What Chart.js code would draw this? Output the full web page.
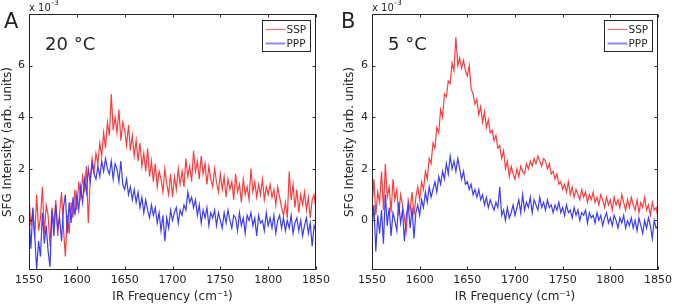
<!DOCTYPE html>
<html><head><meta charset="utf-8">
<script src="https://cdn.jsdelivr.net/npm/chart.js@4.4.1/dist/chart.umd.min.js"></script>
<style>
html,body{margin:0;padding:0;background:#fff;}
#wrap{position:relative;width:676px;height:306px;overflow:hidden;}
</style></head><body>
<div id="wrap">
<canvas id="cA" width="338" height="306" style="position:absolute;left:0;top:0"></canvas>
<canvas id="cB" width="338" height="306" style="position:absolute;left:338px;top:0"></canvas>
</div>
<script>
// ---- data (SFG intensity, units of 1e-3), IR frequency in cm^-1 ----
const freq = [1550,1552,1554,1556,1558,1560,1562,1564,1566,1568,1570,1572,1574,1576,1578,1580,1582,1584,1586,1588,1590,1592,1594,1596,1598,
1600,1602,1604,1606,1608,1610,1612,1614,1616,1618,1620,
1622,1624,1626,1628,1630,1632,1634,1636,1638,1640,
1642,1644,1646,1648,1650,1652,1654,1656,1658,1660,
1662,1664,1666,1668,1670,1672,1674,1676,1678,1680,
1682,1684,1686,1688,1690,1692,1694,1696,1698,1700,
1702,1704,1706,1708,1710,1712,1714,1716,1718,1720,
1722,1724,1726,1728,1730,1732,1734,1736,1738,1740,
1742,1744,1746,1748,1750,1752,1754,1756,1758,1760,
1762,1764,1766,1768,1770,1772,1774,1776,1778,1780,
1782,1784,1786,1788,1790,1792,1794,1796,1798,1800,
1802,1804,1806,1808,1810,1812,1814,1816,1818,1820,
1822,1824,1826,1828,1830,1832,1834,1836,1838,1840,1842,1844,1846,1848,1850];

const sspA = [0.9,-0.2,0.4,-0.7,1.0,-0.4,0.1,1.3,-0.5,0.6,0.2,-1.0,0.5,-0.2,0.8,-0.6,0.3,1.1,-0.3,-1.4,0.2,-0.5,0.7,0.1,1.2,
0.4,1.5,0.9,1.7,1.2,2.1,-0.1,1.6,2.4,1.9,2.6,
2.2,3.0,2.5,3.4,2.8,3.8,3.3,4.9,3.5,4.0,
3.4,4.3,3.1,3.8,3.5,2.9,3.7,2.7,3.3,2.5,
3.1,2.3,3.0,2.1,2.6,1.9,2.8,1.7,2.3,1.5,
2.2,1.3,1.9,1.6,1.1,2.0,1.4,1.0,1.8,0.9,
1.7,1.2,2.0,1.4,1.9,1.3,2.4,1.7,2.1,1.5,
2.7,1.9,2.3,1.6,2.5,1.8,2.2,1.4,2.1,1.6,
1.3,2.0,1.5,1.1,1.8,1.2,1.7,0.9,1.6,1.2,
1.5,0.8,1.8,1.1,1.4,0.7,1.6,1.0,1.3,0.8,
2.0,1.1,1.5,0.9,1.4,1.0,1.6,0.8,1.3,1.0,
1.4,0.9,1.2,0.6,1.3,0.9,0.5,0.2,0.7,0.1,
1.9,0.8,1.4,0.5,1.2,0.3,1.0,0.6,1.1,0.4,0.9,0.1,0.8,1.0,0.4];
const pppA = [0.2,-1.1,0.5,-0.6,-1.9,-0.8,-1.4,0.3,-0.9,-0.2,-1.2,-1.8,0.4,-0.6,0.6,-0.3,0.1,-0.8,0.5,1.0,-0.5,0.7,-0.1,0.9,0.2,
1.0,0.4,1.3,0.7,1.6,1.1,2.0,1.5,2.2,1.8,1.6,
2.1,1.7,2.3,1.9,2.4,2.0,1.8,2.3,1.6,2.2,
2.0,1.5,2.3,1.4,1.2,1.6,1.0,1.3,0.8,1.2,
0.7,1.1,0.5,0.9,0.3,0.8,0.4,0.1,0.6,0.2,
0.5,-0.1,0.3,-0.4,0.2,-0.8,0.1,-0.3,0.4,0.0,
0.3,0.5,-0.1,0.4,0.2,0.6,0.4,1.1,0.7,0.9,
0.5,0.8,0.2,0.6,-0.1,0.4,0.1,0.5,-0.2,0.3,
0.1,0.4,-0.2,0.3,0.0,-0.3,0.3,-0.1,0.4,0.0,
-0.3,0.2,0.1,-0.4,0.3,-0.2,0.1,-0.5,0.2,0.0,
0.3,-0.2,0.1,-0.6,0.2,-0.1,0.0,-0.4,0.3,-0.2,
0.1,-0.3,0.2,-0.5,0.0,0.2,-0.3,0.1,-0.4,0.0,
-0.3,0.2,-0.5,-0.1,0.1,-0.4,0.0,-0.6,-0.2,0.1,-0.5,-0.1,-1.0,-0.2,-0.4];
const sspB = [0.5,1.6,0.2,1.1,0.7,1.9,0.4,2.2,0.9,1.3,0.3,1.6,0.8,1.2,0.2,1.0,0.6,0.1,-0.4,0.8,0.4,1.1,0.2,0.9,1.3,
0.8,1.5,1.2,1.9,1.6,2.4,2.2,3.0,2.8,3.6,3.4,
4.3,4.0,4.9,4.8,5.4,5.3,6.1,5.8,7.1,6.0,
6.3,5.9,6.2,5.8,5.6,6.0,5.1,4.9,4.5,4.7,
4.1,4.4,3.8,4.2,3.6,3.9,3.4,3.5,3.1,3.3,
2.8,2.9,2.4,2.7,2.0,2.3,1.7,2.1,1.8,1.6,
2.0,1.7,2.1,1.9,1.8,2.2,2.0,2.3,2.1,2.4,
2.2,2.5,2.3,2.1,2.4,2.3,2.0,2.2,1.8,1.9,
1.6,1.8,1.4,1.5,1.2,1.4,1.1,1.5,1.0,1.3,
0.9,1.2,1.0,0.8,1.2,0.9,1.1,0.7,1.0,0.8,
1.1,0.7,0.9,0.6,1.0,0.8,0.5,0.9,0.6,0.8,
0.4,0.9,0.6,0.8,0.5,1.0,0.7,0.4,0.8,0.5,
0.9,0.6,0.4,0.8,0.3,0.7,0.5,0.9,0.4,0.6,0.2,0.7,0.4,0.5,0.1];
const pppB = [-0.3,0.6,-1.2,0.2,-0.5,0.4,-0.9,1.0,-0.2,0.5,-0.6,0.3,0.0,-0.4,0.7,-0.1,0.4,-0.8,0.2,0.6,-0.3,0.5,-0.7,0.3,0.6,
0.2,0.8,0.5,1.1,0.7,1.3,0.9,1.2,1.5,1.1,1.7,
1.4,1.9,1.6,2.2,1.8,2.5,2.0,2.3,1.9,2.4,
2.0,1.6,1.9,1.4,1.5,1.2,1.4,1.0,1.2,0.9,
1.2,0.8,1.0,0.6,0.9,0.5,0.8,0.6,0.4,0.7,
0.5,1.3,0.2,0.4,0.0,0.5,0.1,0.3,0.6,0.2,
0.5,0.8,0.3,1.0,0.4,0.7,0.5,0.9,0.3,0.8,
0.6,0.4,0.9,0.5,0.7,0.4,0.8,0.5,0.6,0.3,
0.6,0.4,0.7,0.3,0.5,0.2,0.6,0.3,0.4,0.1,
0.5,0.2,0.4,0.0,0.3,0.2,0.4,-0.1,0.3,0.1,
0.2,-0.1,0.3,0.0,0.2,-0.2,0.1,0.3,-0.1,0.1,
-0.2,0.2,0.0,-0.3,0.1,-0.1,0.2,-0.3,0.0,-0.2,
0.1,-0.3,0.0,-0.4,0.1,-0.2,-0.5,0.0,-0.3,0.1,-0.2,-0.7,0.0,-0.3,-0.2];

const xTicks = [1550,1600,1650,1700,1750,1800,1850];
const yTicks = [0,2,4,6];
const seriesNames = ['SSP','PPP'];

// ---- styling ----
const RED = 'rgb(255,60,60)';
const BLUE = 'rgb(60,60,250)';
const INK = '#262626';
const FAM = "'DejaVu Sans', sans-serif";

function framePlugin(o) {
  return {
    id: 'frame',
    afterDraw(chart) {
      const ctx = chart.ctx, a = chart.chartArea;
      const xs = chart.scales.x, ys = chart.scales.y;
      const L = Math.round(a.left) + 0.5, R = Math.round(a.right) - 0.5;
      const T = Math.round(a.top) + 0.5, B = Math.round(a.bottom) - 0.5;
      ctx.save();
      ctx.strokeStyle = INK; ctx.lineWidth = 1;
      ctx.strokeRect(L, T, R - L, B - T);
      const tl = 3;
      ctx.beginPath();
      xTicks.forEach(v => {
        const px = Math.round(xs.getPixelForValue(v)) + 0.5;
        ctx.moveTo(px, B); ctx.lineTo(px, B - tl);
        ctx.moveTo(px, T); ctx.lineTo(px, T + tl);
      });
      yTicks.forEach(v => {
        const py = Math.round(ys.getPixelForValue(v)) + 0.5;
        ctx.moveTo(L, py); ctx.lineTo(L + tl, py);
        ctx.moveTo(R, py); ctx.lineTo(R - tl, py);
      });
      ctx.stroke();
      // exponent label
      ctx.fillStyle = INK;
      ctx.textBaseline = 'alphabetic';
      ctx.textAlign = 'left';
      ctx.font = '10px ' + FAM;
      ctx.fillText('x 10', a.left, 11);
      const w = ctx.measureText('x 10').width;
      ctx.font = '7.5px ' + FAM;
      ctx.fillText('-3', a.left + w + 0.5, 5);
      // panel letter and temperature
      ctx.font = '21px ' + FAM;
      ctx.fillText(o.letter, o.letterX, 28);
      ctx.font = '18px ' + FAM;
      ctx.fillText(o.temp, a.left + 16, 50);
      // legend
      const bw = 48, bh = 31;
      const bx = Math.round(a.right) - 6 - bw + 0.5, by = Math.round(a.top) + 6 + 0.5;
      ctx.fillStyle = '#fff';
      ctx.fillRect(bx, by, bw, bh);
      ctx.strokeStyle = INK;
      ctx.strokeRect(bx, by, bw, bh);
      ctx.font = '10.5px ' + FAM;
      ctx.textBaseline = 'middle';
      chart.data.datasets.forEach((ds, i) => {
        const yy = by + 9 + i * 14;
        ctx.strokeStyle = i === 0 ? 'rgba(255,60,60,0.8)' : 'rgba(60,60,250,0.6)';
        ctx.lineWidth = i === 0 ? 1 : 2;
        ctx.beginPath(); ctx.moveTo(bx + 3, yy); ctx.lineTo(bx + 23, yy); ctx.stroke();
        ctx.fillStyle = INK;
        ctx.fillText(ds.label, bx + 24, yy + 0.5);
      });
      ctx.restore();
    }
  };
}

function makeChart(id, ssp, ppp, o) {
  const tickFont = { family: FAM, size: 11 };
  const titleFont = { family: FAM, size: 12 };
  return new Chart(document.getElementById(id), {
    type: 'line',
    data: {
      datasets: [
        { label: seriesNames[0], data: freq.map((f, i) => ({ x: f, y: ssp[i] })), borderColor: RED, borderWidth: 1.2, pointRadius: 0, tension: 0, order: 2 },
        { label: seriesNames[1], data: freq.map((f, i) => ({ x: f, y: ppp[i] })), borderColor: BLUE, borderWidth: 1.2, pointRadius: 0, tension: 0, order: 1 }
      ]
    },
    options: {
      responsive: false, animation: false, devicePixelRatio: 1,
      layout: { padding: { left: 0, right: o.padR, top: 14, bottom: 0 } },
      plugins: { legend: { display: false }, tooltip: { enabled: false } },
      scales: {
        x: {
          type: 'linear', min: 1550, max: 1850,
          afterBuildTicks: s => { s.ticks = xTicks.map(v => ({ value: v })); },
          ticks: { font: tickFont, color: INK, padding: 4, maxRotation: 0, autoSkip: false, callback: v => String(v) },
          grid: { display: false, drawTicks: false }, border: { display: false },
          title: { display: true, text: 'IR Frequency (cm⁻¹)', font: titleFont, color: INK, padding: { top: 0, bottom: 2 } },
          afterFit: s => { s.height = 36; }
        },
        y: {
          type: 'linear', min: -1.92, max: 8,
          afterBuildTicks: s => { s.ticks = yTicks.map(v => ({ value: v })); },
          ticks: { font: tickFont, color: INK, padding: 4, callback: v => String(v) },
          grid: { display: false, drawTicks: false }, border: { display: false },
          title: { display: true, text: 'SFG Intensity (arb. units)', font: titleFont, color: INK, padding: { top: o.titlePad, bottom: 0 } },
          afterFit: s => { s.width = o.axisW; }
        }
      }
    },
    plugins: [framePlugin(o)]
  });
}

makeChart('cA', sspA, pppA, { padR: 22, axisW: 29, titlePad: 1, letter: 'A', letterX: 4, temp: '20 °C' });
makeChart('cB', sspB, pppB, { padR: 16, axisW: 34, titlePad: 5, letter: 'B', letterX: 3, temp: '5 °C' });
</script>
</body></html>
